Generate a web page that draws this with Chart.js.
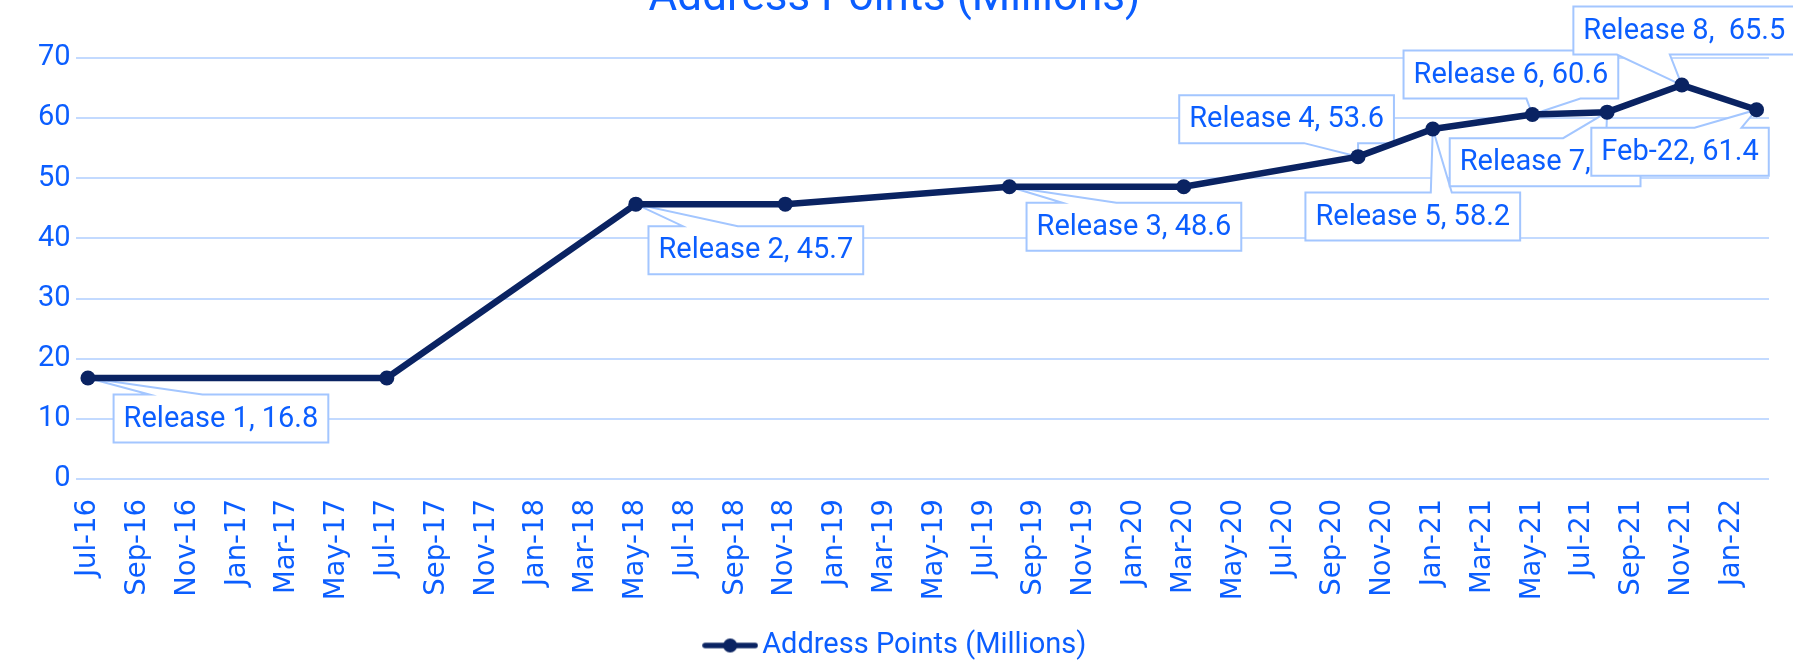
<!DOCTYPE html>
<html>
<head>
<meta charset="utf-8">
<script src="https://cdn.jsdelivr.net/npm/chart.js@4"></script>
<style>
  html, body { margin: 0; padding: 0; background: #ffffff; overflow: hidden; }
  canvas { display: block; }
</style>
</head>
<body>
<canvas id="c" width="1793" height="660"></canvas>
<script>
// ---- data ----
const chartTitle = 'Address Points (Millions)';
const seriesName = 'Address Points (Millions)';
const months = [
  'Jul-16','Aug-16','Sep-16','Oct-16','Nov-16','Dec-16',
  'Jan-17','Feb-17','Mar-17','Apr-17','May-17','Jun-17','Jul-17','Aug-17','Sep-17','Oct-17','Nov-17','Dec-17',
  'Jan-18','Feb-18','Mar-18','Apr-18','May-18','Jun-18','Jul-18','Aug-18','Sep-18','Oct-18','Nov-18','Dec-18',
  'Jan-19','Feb-19','Mar-19','Apr-19','May-19','Jun-19','Jul-19','Aug-19','Sep-19','Oct-19','Nov-19','Dec-19',
  'Jan-20','Feb-20','Mar-20','Apr-20','May-20','Jun-20','Jul-20','Aug-20','Sep-20','Oct-20','Nov-20','Dec-20',
  'Jan-21','Feb-21','Mar-21','Apr-21','May-21','Jun-21','Jul-21','Aug-21','Sep-21','Oct-21','Nov-21','Dec-21',
  'Jan-22','Feb-22'
];
const pointMonths = ['Jul-16','Jul-17','May-18','Nov-18','Aug-19','Mar-20','Oct-20','Jan-21','May-21','Aug-21','Nov-21','Feb-22'];
const pointValues = [16.8, 16.8, 45.7, 45.7, 48.6, 48.6, 53.6, 58.2, 60.6, 61.0, 65.5, 61.4];
const labelTexts = ['Release 1, 16.8', null, 'Release 2, 45.7', null, 'Release 3, 48.6', null,
  'Release 4, 53.6', 'Release 5, 58.2', 'Release 6, 60.6', 'Release 7, 61', 'Release 8,  65.5', 'Feb-22, 61.4'];
const yTicks = [0, 10, 20, 30, 40, 50, 60, 70];

// ---- style (callout placement relative to each point) ----
const calloutStyles = [
  {dx: 133,   dy: 40.5,  edge: 'top',    b1: -71.5, b2: -18.5},
  null,
  {dx: 120,   dy: 46,    edge: 'top',    b1: -73,   b2: -18},
  null,
  {dx: 124.5, dy: 40,    edge: 'top',    b1: -71.5, b2: -17.5},
  null,
  {dx: -71.5, dy: -37.5, edge: 'bottom', b1: 17.5,  b2: 71.5},
  {dx: -20,   dy: 87.5,  edge: 'top',    b1: 18,    b2: 39},
  {dx: -21.5, dy: -40,   edge: 'bottom', b1: 15.5,  b2: 69.5},
  {dx: -62,   dy: 50,    edge: 'top',    b1: 18,    b2: 61},
  {dx: 2.5,   dy: -54.5, edge: 'bottom', b1: -67.5, b2: -14.5},
  {dx: -76.5, dy: 42,    edge: 'top',    b1: 14.5,  b2: 61.5}
];

const BLUE = '#0B5EFF';
const NAVY = '#0A2362';
const GRID = '#C3DAFF';
const BOXLINE = '#A3C6FF';
const FONT = 'Roboto, "Open Sans", sans-serif';
const XFONT = '"DejaVu Sans", Verdana, sans-serif';

// legend symbol: line with a circle marker
const legendSym = document.createElement('canvas');
legendSym.width = 56; legendSym.height = 18;
(function () {
  const g = legendSym.getContext('2d');
  g.strokeStyle = NAVY; g.lineWidth = 5.5; g.lineCap = 'round';
  g.beginPath(); g.moveTo(3, 9); g.lineTo(53, 9); g.stroke();
  g.fillStyle = NAVY; g.beginPath(); g.arc(28, 9, 7, 0, Math.PI * 2); g.fill();
})();

const calloutPlugin = {
  id: 'callouts',
  beforeDatasetsDraw(chart) {
    const ctx = chart.ctx;
    const meta = chart.getDatasetMeta(0);
    ctx.save();
    ctx.font = '29px ' + FONT;
    labelTexts.forEach((txt, i) => {
      if (!txt) return;
      const pt = meta.data[i];
      const st = calloutStyles[i];
      const w = ctx.measureText(txt).width + 20, h = 48;
      const cx = pt.x + st.dx, cy = pt.y + st.dy;
      const l = cx - w / 2, r = cx + w / 2, t = cy - h / 2, b = cy + h / 2;
      ctx.beginPath();
      ctx.moveTo(l, t);
      if (st.edge === 'top') { ctx.lineTo(cx + st.b1, t); ctx.lineTo(pt.x, pt.y); ctx.lineTo(cx + st.b2, t); }
      ctx.lineTo(r, t);
      ctx.lineTo(r, b);
      if (st.edge === 'bottom') { ctx.lineTo(cx + st.b2, b); ctx.lineTo(pt.x, pt.y); ctx.lineTo(cx + st.b1, b); }
      ctx.lineTo(l, b);
      ctx.closePath();
      ctx.fillStyle = '#ffffff';
      ctx.fill();
      ctx.strokeStyle = BOXLINE;
      ctx.lineWidth = 2;
      ctx.lineJoin = 'miter';
      ctx.stroke();
      ctx.fillStyle = BLUE;
      ctx.textAlign = 'center';
      ctx.textBaseline = 'middle';
      ctx.fillText(txt, cx, cy + 1);
    });
    ctx.restore();
  }
};

const titlePlugin = {
  id: 'topTitle',
  afterDraw(chart) {
    const ctx = chart.ctx;
    ctx.save();
    ctx.font = '44px ' + FONT;
    ctx.fillStyle = BLUE;
    ctx.textAlign = 'center';
    ctx.textBaseline = 'alphabetic';
    ctx.fillText(chartTitle, chart.width / 2 - 2, 10);
    ctx.restore();
  }
};

new Chart(document.getElementById('c'), {
  type: 'line',
  data: {
    labels: months,
    datasets: [{
      label: seriesName,
      data: pointMonths.map((m, i) => ({x: m, y: pointValues[i]})),
      borderColor: NAVY,
      backgroundColor: NAVY,
      borderWidth: 6.5,
      pointRadius: 7.5,
      pointHoverRadius: 7.5,
      pointBackgroundColor: NAVY,
      pointBorderColor: NAVY,
      pointBorderWidth: 0,
      tension: 0,
      spanGaps: true,
      borderJoinStyle: 'round',
      borderCapStyle: 'round'
    }]
  },
  options: {
    responsive: false,
    animation: false,
    events: [],
    layout: { padding: { top: 58, left: 30, right: 24, bottom: -10 } },
    scales: {
      x: {
        type: 'category',
        offset: true,
        grid: { display: false, drawTicks: false },
        border: { display: false },
        ticks: {
          autoSkip: false,
          minRotation: 90,
          maxRotation: 90,
          padding: 20,
          color: BLUE,
          font: { family: XFONT, size: 27.5 },
          callback: function (val, idx) { return idx % 2 === 0 ? this.getLabelForValue(val) : null; }
        },
        afterFit: (s) => { s.height = 142; }
      },
      y: {
        min: 0,
        max: 70,
        afterBuildTicks: (s) => { s.ticks = yTicks.map(v => ({value: v})); },
        grid: { color: GRID, lineWidth: 2, drawTicks: false },
        border: { display: false },
        ticks: {
          padding: 5,
          color: BLUE,
          font: { family: FONT, size: 29 }
        },
        afterFit: (s) => { s.width = 45.5; }
      }
    },
    plugins: {
      title: { display: false },
      tooltip: { enabled: false },
      legend: {
        display: true,
        position: 'bottom',
        labels: {
          color: BLUE,
          font: { family: FONT, size: 29 },
          padding: 10,
          usePointStyle: true,
          pointStyleWidth: 35,
          generateLabels: (chart) => {
            const items = Chart.defaults.plugins.legend.labels.generateLabels(chart);
            items.forEach(it => { it.pointStyle = legendSym; });
            return items;
          }
        }
      }
    }
  },
  plugins: [calloutPlugin, titlePlugin]
});
</script>
</body>
</html>
